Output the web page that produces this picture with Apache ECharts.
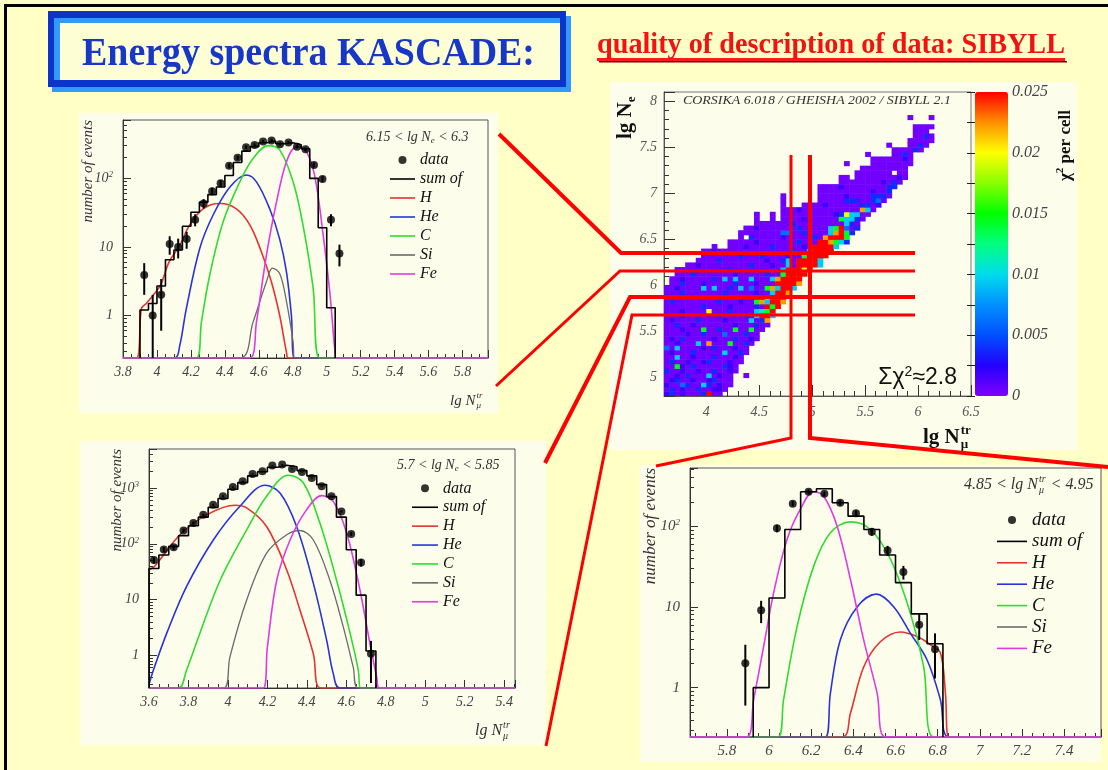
<!DOCTYPE html>
<html>
<head>
<meta charset="utf-8">
<title>Energy spectra KASCADE</title>
<script src="https://cdn.jsdelivr.net/npm/echarts@6/dist/echarts.min.js"></script>
<style>
html, body { margin: 0; padding: 0; background: #ffffc6; }
#chart { width: 1108px; height: 770px; }
</style>
</head>
<body>
<div id="chart"></div>
<script>
// ---------------- values ----------------

// top-left spectrum, 6.15 < lg Ne < 6.3
const p1DataX = [3.925, 3.975, 4.025, 4.075, 4.125, 4.175, 4.225, 4.275, 4.325, 4.375, 4.425, 4.475, 4.525, 4.575, 4.625, 4.675, 4.725, 4.775, 4.825, 4.875, 4.925, 4.975, 5.025, 5.075];
const p1DataY = [3.9, 1.0, 2.0, 11, 10, 13, 25, 43, 65, 85, 153, 200, 285, 307, 345, 357, 315, 333, 290, 265, 157, 98, 25, 8];
const p1DataErr = [1.9, 1.0, 1.4, 3.3, 3.2, 3.6, 5, 6.6, 8, 9.2, 12, 14, 17, 17.5, 18.6, 19, 17.7, 18.2, 17, 16.3, 12.5, 9.9, 5, 2.8];
const p1SumEdges = [3.90, 3.95, 4.00, 4.05, 4.10, 4.15, 4.20, 4.25, 4.30, 4.35, 4.40, 4.45, 4.50, 4.55, 4.60, 4.65, 4.70, 4.75, 4.80, 4.85, 4.90, 4.95, 5.00, 5.05];
const p1SumY = [1.2, 1.5, 2.7, 6.5, 9, 20, 32, 45, 58, 75, 110, 170, 250, 290, 330, 350, 320, 330, 310, 270, 100, 19, 1.3];
// component curves [lg Nmu, events]; 0 = below the axis
const p1H = [[3.8, 0], [3.879, 0], [3.908, 1.25], [3.937, 1.5], [3.98, 2.0], [4.022, 2.8], [4.071, 6], [4.134, 10.5], [4.193, 21], [4.272, 36], [4.37, 43], [4.468, 36], [4.547, 21], [4.615, 8.5], [4.674, 3.1], [4.723, 1.0], [4.763, 0.29], [4.775, 0], [5.95, 0]];
const p1He = [[3.8, 0], [4.105, 0], [4.134, 0.36], [4.173, 1.26], [4.252, 9.5], [4.33, 29], [4.43, 75], [4.527, 112], [4.586, 89], [4.664, 36], [4.723, 13], [4.763, 4.3], [4.792, 1.0], [4.81, 0], [5.95, 0]];
const p1C = [[3.8, 0], [4.232, 0], [4.262, 0.8], [4.311, 3.9], [4.389, 23], [4.488, 89], [4.566, 195], [4.655, 300], [4.723, 260], [4.802, 89], [4.86, 21], [4.92, 2.5], [4.959, 0], [5.95, 0]];
const p1Si = [[3.8, 0], [4.488, 0], [4.566, 0.8], [4.645, 3.1], [4.68, 4.9], [4.723, 4.1], [4.763, 1.6], [4.802, 0.41], [4.81, 0], [5.95, 0]];
const p1Fe = [[3.8, 0], [4.546, 0], [4.586, 0.8], [4.645, 7.6], [4.704, 45], [4.763, 175], [4.822, 290], [4.88, 245], [4.93, 106], [4.979, 15], [5.018, 2.2], [5.047, 0.33], [5.057, 0], [5.95, 0]];

// bottom-left spectrum, 5.7 < lg Ne < 5.85
const p2DataX = [3.625, 3.675, 3.725, 3.775, 3.825, 3.875, 3.925, 3.975, 4.025, 4.075, 4.125, 4.175, 4.225, 4.275, 4.325, 4.375, 4.425, 4.475, 4.525, 4.575, 4.625, 4.675, 4.725];
const p2DataY = [51, 79, 87, 173, 235, 330, 500, 710, 1040, 1320, 1790, 2000, 2520, 2630, 2200, 1940, 1510, 1070, 710, 380, 150, 46, 1.07];
const p2DataErr = [7, 9, 9, 13, 15, 18, 22, 27, 32, 36, 42, 45, 50, 51, 47, 44, 39, 33, 27, 19, 12, 7, 0.75];
const p2SumEdges = [3.60, 3.65, 3.70, 3.75, 3.80, 3.85, 3.90, 3.95, 4.00, 4.05, 4.10, 4.15, 4.20, 4.25, 4.30, 4.35, 4.40, 4.45, 4.50, 4.55, 4.60, 4.65, 4.70, 4.75];
const p2SumY = [36, 63, 90, 140, 210, 300, 450, 650, 950, 1250, 1650, 1950, 2350, 2550, 2400, 2050, 1650, 1150, 700, 300, 78, 12, 1.2];
const p2H = [[3.6, 34], [3.63, 40], [3.757, 145], [3.892, 330], [4.036, 490], [4.095, 440], [4.196, 204], [4.298, 34], [4.365, 6.5], [4.433, 1.07], [4.47, 0], [5.455, 0]];
const p2He = [[3.6, 0.3], [3.622, 0.54], [3.69, 2.5], [3.79, 17], [3.926, 117], [4.061, 470], [4.188, 1120], [4.264, 810], [4.348, 204], [4.433, 19.5], [4.5, 1.9], [4.534, 0.47], [4.568, 0], [5.455, 0]];
const p2C = [[3.6, 0], [3.749, 0], [3.79, 0.54], [3.858, 2.5], [3.96, 22], [4.095, 178], [4.196, 710], [4.306, 1690], [4.382, 1240], [4.466, 235], [4.551, 22], [4.619, 2.5], [4.661, 0.54], [4.673, 0], [5.455, 0]];
const p2Si = [[3.6, 0], [3.98, 0], [4.01, 0.93], [4.095, 9.8], [4.196, 68], [4.298, 145], [4.365, 173], [4.433, 117], [4.517, 22], [4.585, 3.2], [4.635, 0.62], [4.661, 0], [5.455, 0]];
const p2Fe = [[3.6, 0], [4.179, 0], [4.2, 1.4], [4.247, 22], [4.315, 117], [4.399, 410], [4.475, 730], [4.534, 575], [4.602, 155], [4.669, 15], [4.72, 1.6], [4.754, 0.41], [4.767, 0], [5.455, 0]];

// bottom-right spectrum, 4.85 < lg Nmu < 4.95 (x is lg Ne)
const p3DataX = [5.8875, 5.9625, 6.0375, 6.1125, 6.1875, 6.2625, 6.3375, 6.4125, 6.4875, 6.5625, 6.6375, 6.7125, 6.7875];
const p3DataY = [2.0, 9.1, 94, 190, 267, 252, 195, 144, 85, 50, 27, 6.0, 3.0];
const p3DataErr = [1.4, 2.8, 10, 14, 16, 16, 14, 12, 9, 7, 5.2, 2.1, 1.7];
const p3SumEdges = [5.925, 6.0, 6.075, 6.15, 6.225, 6.3, 6.375, 6.45, 6.525, 6.6, 6.675, 6.75, 6.825];
const p3SumY = [1.0, 12.9, 91, 267, 290, 195, 133, 91, 44, 20, 8.2, 3.5];
const p3H = [[5.625, 0], [6.346, 0], [6.386, 0.48], [6.449, 1.8], [6.528, 3.7], [6.623, 4.9], [6.703, 4.3], [6.766, 3.4], [6.813, 2.7], [6.837, 0.85], [6.853, 0], [7.575, 0]];
const p3He = [[5.625, 0], [6.267, 0], [6.291, 0.85], [6.338, 3.9], [6.418, 10], [6.51, 14.4], [6.592, 10], [6.671, 4.7], [6.75, 2.2], [6.813, 0.71], [6.853, 0], [7.575, 0]];
const p3C = [[5.625, 0], [6.042, 0], [6.069, 0.71], [6.133, 5.7], [6.212, 32], [6.291, 83], [6.386, 113], [6.481, 91], [6.576, 39], [6.671, 8.3], [6.734, 1.8], [6.782, 0], [7.575, 0]];
const p3Si = [[5.625, 0], [7.575, 0]];
const p3Fe = [[5.625, 0], [5.892, 0], [5.927, 0.71], [5.974, 3.2], [6.022, 15], [6.085, 68], [6.148, 161], [6.212, 267], [6.259, 236], [6.323, 100], [6.386, 22], [6.449, 3.9], [6.513, 0.85], [6.552, 0], [7.575, 0]];

// chi2 map: one string per lg Ne bin (bottom row first), "first column|cells"
// '.' empty cell, otherwise a level key into chiLevel
const chiX0 = 3.6, chiY0 = 4.8, chiBin = 0.05;
const chiLevel = { '0': 0.0004, '1': 0.0018, '2': 0.0038, '3': 0.0062, '4': 0.0095, '5': 0.0112, '6': 0.0145, '7': 0.017, '8': 0.0198, '9': 0.0222, 'r': 0.025 };
const chiRows = [
  '0|12010002r00',
  '0|020100200110',
  '0|1003200420100',
  '0|0120010012000',
  '0|0010200040100..0',
  '0|20010010020010',
  '0|00610200000210',
  '0|020010012000100',
  '0|004001000200010',
  '0|0100020000040020',
  '0|3040000102000100',
  '0|00100040900060020',
  '0|010200000100020010',
  '0|000010020003000200',
  '0|0001000600200600600',
  '0|00200100000001000200',
  '0|01000020000100004029',
  '0|000100000020000204rr4',
  '0|00010000800020000456r',
  '0|0000000200001000020r6r',
  '0|02000000002000100694rr9',
  '0|00000020000000020005rrr',
  '0|000200000002000001004rr9',
  '0|0010000404002040300694rr4',
  '1|00200010000020001000rrrr9',
  '1|001000002040400400049rrrr',
  '2|000200000001000002006rrrr',
  '2|000000000020000000004rrr8r',
  '4|001000000000200010040rrrr4',
  '6|0000200000000100240rrrr4',
  '7|00000002000200001006rrrr',
  '7|001000000000000002004rrrr',
  '9|0..0001000020000010rrrr4',
  '12|00000100000002000rr9642',
  '14|0.200000100000209rrr6',
  '14|0000000033002000049r62',
  '15|001000000020000046r302',
  '17|00000002000000000420',
  '17|0..0.0000100000064420',
  '17|0..0.00000000001284400',
  '22|000100000000000940',
  '22|0...000010000002201',
  '22|0......0000022200230',
  '22|0......00000100002220',
  '29|00000000001002',
  '29|000010000000022',
  '33|000000001020',
  '33|00.0000000010',
  '36|0000000.00',
  '37|000000000',
  '34|0....00000000',
  '39|00000010',
  '38|0....0020',
  '43|000020',
  '42|0...0020',
  '46|00000',
  '47|0020',
  '47|000',
  '47|0000',
  '',
  '46|0...0'
];
const chiColors = ['#8000ff', '#2400ff', '#0050ff', '#0090ff', '#00dcec', '#00ff80', '#00ff00', '#88ff00', '#ffff00', '#ff9000', '#ff0000'];

const compNames = ['H', 'He', 'C', 'Si', 'Fe'];
const compColors = ['#e8322e', '#2834d8', '#2fdc2f', '#6a6a6a', '#e23ae2'];

// ---------------- helpers ----------------
const SERIF = '"Liberation Serif", "Times New Roman", serif';
const SANS = '"Liberation Sans", Arial, sans-serif';
const mctx = document.createElement('canvas').getContext('2d');
function measure(str, style, weight, size, family) {
  mctx.font = style + ' ' + weight + ' ' + size + 'px ' + (family || SERIF);
  return mctx.measureText(str).width;
}

function label(x, y, text, o, extra) {
  o = o || {};
  const st = {
    text: text,
    fontFamily: o.family || SERIF,
    fontSize: o.size || 14,
    fontStyle: o.italic ? 'italic' : 'normal',
    fontWeight: o.bold ? 'bold' : 'normal',
    fill: o.color || '#222',
    align: o.align || 'left', textAlign: o.align || 'left',
    verticalAlign: 'middle', textVerticalAlign: 'middle'
  };
  if (o.lineHeight) st.lineHeight = o.lineHeight;
  if (o.rich) st.rich = o.rich;
  const el = { type: 'text', x: x, y: y, z: 60, silent: true, style: st };
  if (o.fitWidth) el.scaleX = o.fitWidth / measure(text, st.fontStyle, st.fontWeight, st.fontSize, st.fontFamily);
  return Object.assign(el, extra || {});
}

// "lg N" with stacked superscript tr / subscript mu
function lgN(x, y, size, o) {
  const style = o.italic ? 'italic' : 'normal', weight = o.bold ? 'bold' : 'normal';
  const main = (o.before || '') + 'lg N';
  const w = measure(main, style, weight, size);
  const ss = Math.round(size * 0.62);
  const wi = Math.max(measure('tr', style, weight, ss), measure('\u03bc', style, weight, ss));
  const els = [
    label(x, y, main, { size: size, italic: o.italic, bold: o.bold, color: o.color }),
    label(x + w + 1, y - size * 0.36, 'tr', { size: ss, italic: o.italic, bold: o.bold, color: o.color }),
    label(x + w + 1, y + size * 0.34, '\u03bc', { size: ss, italic: o.italic, bold: o.bold, color: o.color })
  ];
  if (o.after) els.push(label(x + w + 2 + wi, y, o.after, { size: size, italic: o.italic, bold: o.bold, color: o.color }));
  return els;
}

function box(x, y, w, h, fill, z) {
  return { type: 'rect', shape: { x: x, y: y, width: w, height: h }, style: { fill: fill }, z: z, silent: true };
}
function redLine(points, w) {
  return { type: 'polyline', shape: { points: points }, style: { stroke: '#ff0000', lineWidth: w, fill: null }, z: 90, silent: true };
}

function logLabel(v) {
  const l = Math.log10(v), e = Math.round(l);
  if (Math.abs(l - e) > 1e-6) return '';
  if (e === 0) return '1';
  if (e === 1) return '10';
  return '10{sup|' + e + '}';
}
function lineIcon(w) { return 'path://M0,0M' + w + ',12M0,5.2L' + w + ',5.2L' + w + ',6.8L0,6.8Z'; }
function dotIcon(w) { const c = w / 2; return 'path://M0,0M' + w + ',12M' + (c - 4) + ',6A4,4,0,1,1,' + (c + 4) + ',6A4,4,0,1,1,' + (c - 4) + ',6Z'; }

function errorBar(params, api) {
  const x = api.value(0);
  const a = api.coord([x, api.value(2)]);
  const b = api.coord([x, api.value(1)]);
  return { type: 'line', shape: { x1: a[0], y1: a[1], x2: b[0], y2: b[1] }, style: { stroke: '#000', lineWidth: 2 } };
}
function chiCell(params, api) {
  const x = api.value(0), y = api.value(1);
  const a = api.coord([x, y + chiBin]);
  const b = api.coord([x + chiBin, y]);
  return { type: 'rect', shape: { x: a[0], y: a[1], width: b[0] - a[0] + 0.5, height: b[1] - a[1] + 0.5 }, style: { fill: api.visual('color') } };
}

// ---------------- build options ----------------
const grids = [], xAxes = [], yAxes = [], series = [], legends = [];

// heat map (grid 0) — series 0 so the visualMap can point at it
const chiData = [];
chiRows.forEach(function (row, r) {
  if (!row) return;
  const parts = row.split('|');
  const c0 = +parts[0];
  for (let k = 0; k < parts[1].length; k++) {
    const ch = parts[1][k];
    if (ch === '.') continue;
    chiData.push([chiX0 + (c0 + k) * chiBin, chiY0 + r * chiBin, chiLevel[ch]]);
  }
});
grids.push({ left: 664, top: 92, width: 307, height: 304, show: true, borderColor: '#777', borderWidth: 1, backgroundColor: 'transparent', containLabel: false });
const heatLabel = { fontFamily: SERIF, fontStyle: 'italic', fontSize: 14, color: '#555' };
xAxes.push({ gridIndex: 0, type: 'value', min: 3.6, max: 6.5, splitNumber: 5,
  axisLine: { lineStyle: { color: '#555' } },
  axisTick: { inside: true, length: 11, lineStyle: { color: '#333' } },
  minorTick: { show: true, splitNumber: 5, length: 5, lineStyle: { color: '#333' } },
  splitLine: { show: false },
  axisLabel: Object.assign({ margin: 9, showMinLabel: false }, heatLabel) });
yAxes.push({ gridIndex: 0, type: 'value', min: 4.8, max: 8.1, splitNumber: 5,
  axisLine: { lineStyle: { color: '#555' } },
  axisTick: { inside: true, length: 11, lineStyle: { color: '#333' } },
  minorTick: { show: true, splitNumber: 5, length: 5, lineStyle: { color: '#333' } },
  splitLine: { show: false },
  axisLabel: Object.assign({ margin: 7, showMinLabel: false, showMaxLabel: false }, heatLabel) });
series.push({ type: 'custom', name: 'chi2', xAxisIndex: 0, yAxisIndex: 0, renderItem: chiCell, data: chiData,
  dimensions: ['x', 'y', 'chi2'], encode: { x: 0, y: 1 }, clip: true, silent: true, z: 2 });

// spectra (grids 1..3)
const spectra = [
  { grid: { left: 123, top: 120, width: 365, height: 238 }, x: [3.8, 5.95], y: [0.24, 710], tick: 14,
    dx: p1DataX, dy: p1DataY, de: p1DataErr, se: p1SumEdges, sy: p1SumY, curves: [p1H, p1He, p1C, p1Si, p1Fe],
    legend: { left: 390, top: 150.5, step: 19, iconW: 25, font: 16 } },
  { grid: { left: 149, top: 449, width: 366, height: 239 }, x: [3.6, 5.455], y: [0.26, 5000], tick: 14,
    dx: p2DataX, dy: p2DataY, de: p2DataErr, se: p2SumEdges, sy: p2SumY, curves: [p2H, p2He, p2C, p2Si, p2Fe],
    legend: { left: 412, top: 478.9, step: 18.9, iconW: 26, font: 16 } },
  { grid: { left: 690, top: 468, width: 411, height: 269 }, x: [5.625, 7.575], y: [0.245, 525], tick: 15,
    dx: p3DataX, dy: p3DataY, de: p3DataErr, se: p3SumEdges, sy: p3SumY, curves: [p3H, p3He, p3C, p3Si, p3Fe],
    legend: { left: 997, top: 509.3, step: 21.4, iconW: 30, font: 19 } }
];

spectra.forEach(function (p, i) {
  const gi = i + 1, floor = p.y[0];
  const ls = { fontFamily: SERIF, fontStyle: 'italic', fontSize: p.tick, color: '#444' };
  grids.push(Object.assign({ show: true, borderColor: '#555', borderWidth: 1, backgroundColor: 'transparent', containLabel: false }, p.grid));
  xAxes.push({ gridIndex: gi, type: 'value', min: p.x[0], max: p.x[1], splitNumber: 10,
    axisLine: { lineStyle: { color: '#333' } },
    axisTick: { inside: true, length: 8, lineStyle: { color: '#333' } },
    minorTick: { show: true, splitNumber: 4, length: 4, lineStyle: { color: '#333' } },
    splitLine: { show: false },
    axisLabel: Object.assign({ margin: 7, formatter: function (v) {
      return Math.abs(v * 5 - Math.round(v * 5)) < 1e-6 ? String(+v.toFixed(1)) : '';
    } }, ls) });
  yAxes.push({ gridIndex: gi, type: 'log', logBase: 10, min: p.y[0], max: p.y[1],
    axisLine: { lineStyle: { color: '#333' } },
    axisTick: { inside: true, length: 8, lineStyle: { color: '#333' } },
    minorTick: { show: true, splitNumber: 9, length: 4, lineStyle: { color: '#333' } },
    splitLine: { show: false },
    axisLabel: Object.assign({ margin: 10, lineHeight: 16, formatter: logLabel,
      rich: { sup: { fontSize: 9, fontFamily: SERIF, fontStyle: 'italic', color: '#444', verticalAlign: 'top', lineHeight: 9 } } }, ls) });

  p.curves.forEach(function (pts, k) {
    series.push({ name: compNames[k], type: 'line', xAxisIndex: gi, yAxisIndex: gi,
      data: pts.map(function (q) { return [q[0], Math.max(q[1], floor)]; }),
      smooth: 0.35, symbol: 'none', showSymbol: false, clip: true, silent: true, z: 3,
      lineStyle: { width: k === 3 ? 1.3 : 1.6, color: compColors[k] }, itemStyle: { color: compColors[k] } });
  });
  const step = [[p.se[0], floor]];
  p.sy.forEach(function (v, j) { step.push([p.se[j], Math.max(v, floor)]); });
  step.push([p.se[p.se.length - 1], floor]);
  series.push({ name: 'sum of', type: 'line', step: 'end', xAxisIndex: gi, yAxisIndex: gi, data: step,
    symbol: 'none', showSymbol: false, clip: true, silent: true, z: 4,
    lineStyle: { width: 1.6, color: '#000' }, itemStyle: { color: '#000' } });
  series.push({ name: 'data err', type: 'custom', xAxisIndex: gi, yAxisIndex: gi, renderItem: errorBar,
    data: p.dx.map(function (x, j) { return [x, Math.max(p.dy[j] - p.de[j], floor), p.dy[j] + p.de[j]]; }),
    encode: { x: 0, y: [1, 2] }, clip: true, silent: true, z: 5 });
  series.push({ name: 'data', type: 'scatter', xAxisIndex: gi, yAxisIndex: gi,
    data: p.dx.map(function (x, j) { return [x, p.dy[j]]; }),
    symbol: 'circle', symbolSize: 8, itemStyle: { color: '#000' }, silent: true, z: 6 });

  const L = p.legend;
  legends.push({ orient: 'vertical', left: L.left, top: L.top, padding: 0, itemGap: 0, selectedMode: false,
    itemWidth: L.iconW, itemHeight: 12, itemStyle: { borderWidth: 0 },
    textStyle: { fontFamily: SERIF, fontStyle: 'italic', fontSize: L.font, color: '#111', lineHeight: L.step },
    data: [{ name: 'data', icon: dotIcon(L.iconW) }].concat(['sum of'].concat(compNames).map(function (n) { return { name: n, icon: lineIcon(L.iconW) }; })) });
});

// colour bar axis (grid 4)
grids.push({ left: 975, top: 92, width: 33, height: 304, show: false, containLabel: false });
xAxes.push({ gridIndex: 4, type: 'value', show: false, min: 0, max: 1 });
yAxes.push({ gridIndex: 4, type: 'value', min: 0, max: 0.025, interval: 0.005, position: 'right', z: 10,
  axisLine: { show: false },
  axisTick: { inside: true, length: 8, lineStyle: { color: '#222' } },
  minorTick: { show: true, splitNumber: 2, length: 8, lineStyle: { color: '#222' } },
  splitLine: { show: false },
  axisLabel: { margin: 4, fontFamily: SERIF, fontStyle: 'italic', fontSize: 16, color: '#444' } });

// ---------------- slide decoration and texts ----------------
const g = [];
// frame and panels
g.push(box(4, 4, 1104, 3, '#000', 1), box(4, 4, 3, 766, '#000', 1));
g.push(box(79, 113, 419, 300, '#fdfdec', -10));
g.push(box(80, 441, 466, 304, '#fdfdec', -10));
g.push(box(640, 465, 461, 297, '#fdfdec', -10));
g.push(box(610, 82, 467, 368, '#fdfdec', -10));
// title box
g.push(box(52, 16, 519, 76, '#3399ff', -9), box(48, 11, 518, 76, '#0a34cc', -8),
       box(54, 18, 506, 62, '#3399ff', -7), box(60, 23, 500, 57, '#fefed4', -6));
g.push(label(82, 55, 'Energy spectra KASCADE:', { size: 40, bold: true, color: '#1737c9', fitWidth: 453 }));
g.push(label(597, 45, 'quality of description of data: SIBYLL', { size: 30, bold: true, color: '#f21212', fitWidth: 468 }));
g.push(box(597, 58, 468, 3, '#ff1a1a', 50), box(599, 61, 468, 1.5, '#6a0000', 49));

// spectra texts
g.push(label(88, 120, 'number of events', { size: 15, italic: true, color: '#333', align: 'right' }, { rotation: Math.PI / 2 }));
g.push(label(117, 449, 'number of events', { size: 15, italic: true, color: '#333', align: 'right' }, { rotation: Math.PI / 2 }));
g.push(label(651, 468, 'number of events', { size: 17, italic: true, color: '#333', align: 'right' }, { rotation: Math.PI / 2 }));
const subE = { s: { fontSize: 9, fontStyle: 'italic', fontFamily: SERIF, fill: '#333', color: '#333', verticalAlign: 'bottom', lineHeight: 9 } };
g.push(label(366, 137, '6.15 < lg N{s|e} < 6.3', { size: 14, italic: true, color: '#333', lineHeight: 16, rich: subE }));
g.push(label(397, 465, '5.7 < lg N{s|e} < 5.85', { size: 14, italic: true, color: '#333', lineHeight: 16, rich: subE }));
Array.prototype.push.apply(g, lgN(964, 485, 16, { italic: true, color: '#333', before: '4.85 < ', after: ' < 4.95' }));
Array.prototype.push.apply(g, lgN(450, 401, 15, { italic: true, color: '#333' }));
Array.prototype.push.apply(g, lgN(475, 731, 16, { italic: true, color: '#333' }));

// heat map texts
g.push(label(683, 101, 'CORSIKA 6.018 / GHEISHA 2002 / SIBYLL 2.1', { size: 13, italic: true, color: '#333', fitWidth: 268 }));
g.push(label(957, 378, '{a|\u03a3\u03c7}{s|2}{a|\u22482.8}', { family: SANS, size: 23, color: '#111', align: 'right',
  rich: { a: { fontSize: 23, fontFamily: SANS, fill: '#111', color: '#111', lineHeight: 26 },
          s: { fontSize: 14, fontFamily: SANS, fill: '#111', color: '#111', verticalAlign: 'top', lineHeight: 14 } } }));
g.push(label(626, 139, '{m|lg N}{s|e}', { size: 21, bold: true, color: '#111',
  rich: { m: { fontSize: 21, fontWeight: 'bold', fontFamily: SERIF, fill: '#111', color: '#111', lineHeight: 24 },
          s: { fontSize: 13, fontWeight: 'bold', fontFamily: SERIF, fill: '#111', color: '#111', verticalAlign: 'bottom', lineHeight: 13 } } },
  { rotation: Math.PI / 2 }));
g.push(label(1066, 181, '{m|\u03c7}{s|2}{m| per cell}', { size: 17, bold: true, color: '#111',
  rich: { m: { fontSize: 17, fontWeight: 'bold', fontFamily: SERIF, fill: '#111', color: '#111', lineHeight: 22 },
          s: { fontSize: 11, fontWeight: 'bold', fontFamily: SERIF, fill: '#111', color: '#111', verticalAlign: 'top', lineHeight: 11 } } },
  { rotation: Math.PI / 2 }));
Array.prototype.push.apply(g, lgN(923, 438, 21, { bold: true, color: '#111' }));

// hand-drawn connectors of the slide
g.push(redLine([[499, 134], [621, 253], [915, 253]], 4));
g.push(redLine([[496, 386], [620, 271], [915, 271]], 3));
g.push(redLine([[545, 463], [630, 297], [915, 297]], 4));
g.push(redLine([[546, 746], [632, 315], [915, 315]], 3));
g.push(redLine([[656, 466], [791, 438], [791, 155]], 3));
g.push(redLine([[1108, 467], [810, 438], [810, 155]], 4));

const chart = echarts.init(document.getElementById('chart'));
chart.setOption({
  animation: false,
  backgroundColor: '#ffffc6',
  textStyle: { fontFamily: SERIF },
  grid: grids,
  xAxis: xAxes,
  yAxis: yAxes,
  visualMap: [{ type: 'continuous', seriesIndex: 0, dimension: 2, min: 0, max: 0.025, calculable: false, hoverLink: false,
    inRange: { color: chiColors }, orient: 'vertical', left: 975, top: 92, itemWidth: 33, itemHeight: 304, padding: 0, z: 3 }],
  legend: legends,
  series: series,
  graphic: { elements: g }
});
</script>
</body>
</html>
